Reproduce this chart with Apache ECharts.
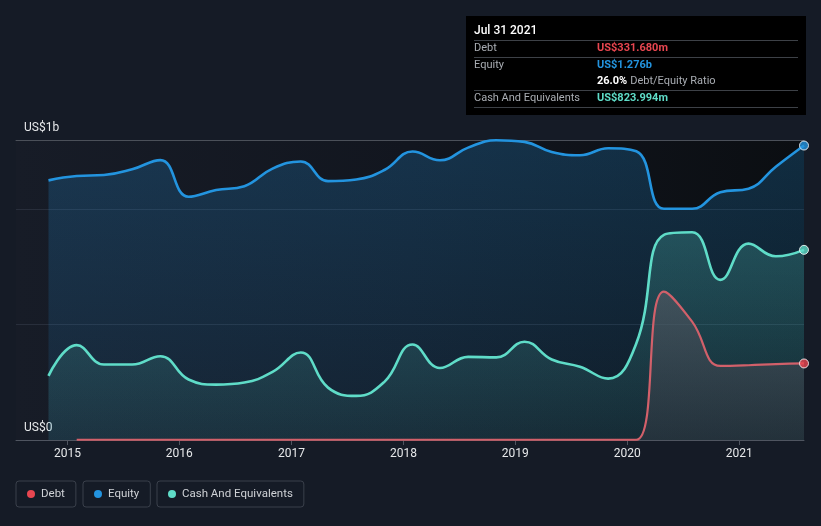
<!DOCTYPE html>
<html>
<head>
<meta charset="utf-8">
<script src="https://cdn.jsdelivr.net/npm/echarts@6/dist/echarts.min.js"></script>
<style>
html,body{margin:0;padding:0;background:#151b26;}
#c{width:821px;height:526px;}
</style>
</head>
<body>
<div id="c"></div>
<script>
// ---- data (values in US$ billions) ----
var dates = ['2014-10-31','2015-01-31','2015-04-30','2015-07-31','2015-10-31','2016-01-31','2016-04-30','2016-07-31','2016-10-31','2017-01-31','2017-04-30','2017-07-31','2017-10-31','2018-01-31','2018-04-30','2018-07-31','2018-10-31','2019-01-31','2019-04-30','2019-07-31','2019-10-31','2020-01-31','2020-04-30','2020-07-31','2020-10-31','2021-01-31','2021-04-30','2021-07-31'];
var equity = [1.125,1.144,1.148,1.173,1.213,1.054,1.083,1.100,1.176,1.207,1.122,1.129,1.170,1.250,1.212,1.267,1.299,1.292,1.248,1.234,1.264,1.251,1.002,1.002,1.074,1.089,1.184,1.276];
var cash = [0.278,0.411,0.327,0.327,0.363,0.262,0.240,0.249,0.295,0.379,0.227,0.191,0.252,0.414,0.312,0.360,0.358,0.426,0.349,0.317,0.266,0.419,0.889,0.900,0.694,0.851,0.796,0.823994];
var debt = [null,0.001,0.001,0.001,0.001,0.001,0.001,0.001,0.001,0.001,0.001,0.001,0.001,0.001,0.001,0.001,0.001,0.001,0.001,0.001,0.001,0.001,0.643,0.513,0.321,0.324,0.329,0.33168];
var yearTicks = ['2015','2016','2017','2018','2019','2020','2021'];
var axisStart = '2014-07-17';
var axisEnd = '2021-07-31';
var tooltipDate = 'Jul 31 2021';

var C_DEBT = '#e84650', C_DEBT_LINE = '#d2606a', C_EQ = '#2394df', C_CASH = '#5fdcc8';

function ts(d){ return Date.parse(d + 'T00:00:00Z'); }
function pairs(arr){ return dates.map(function(d,i){ return [ts(d), arr[i]]; }); }
function lastPair(arr){ var i = arr.length-1; return [[ts(dates[i]), arr[i]]]; }
function fmt(v){ return v >= 1 ? 'US$' + v.toFixed(3) + 'b' : 'US$' + (v*1000).toFixed(3) + 'm'; }
var lastDebt = debt[debt.length-1], lastEq = equity[equity.length-1], lastCash = cash[cash.length-1];
var ratio = (lastDebt/lastEq*100).toFixed(1) + '%';
var tickTimes = yearTicks.map(function(y){ return ts(y + '-01-01'); });

function grad(c1, c2){ return new echarts.graphic.LinearGradient(0,0,0,1,[{offset:0,color:c1},{offset:1,color:c2}]); }

var chart = echarts.init(document.getElementById('c'), null, {renderer:'canvas'});
var FONT = 'Roboto, "Noto Sans", sans-serif';

function legend(name, left){
  return {
    data:[name], left:left, top:481, orient:'horizontal',
    icon:'circle', itemWidth:8, itemHeight:8, itemGap:0,
    borderColor:'#3a404b', borderWidth:1, borderRadius:3,
    padding:[6,11,6,11],
    textStyle:{color:'#cfd2d6', fontSize:11.5, fontFamily:FONT, lineHeight:14, padding:[0,0,0,1]}
  };
}

var rowLabel = {fill:'#a9adb3', fontSize:11, fontFamily:FONT};
function txt(x,y,t,style){ return {type:'text', x:x, y:y, style:Object.assign({text:t, verticalAlign:'middle'}, style)}; }
function hl(y){ return {type:'line', shape:{x1:474,y1:y,x2:798,y2:y}, style:{stroke:'#3d4147', lineWidth:1}}; }

var SM = 0.45;
chart.setOption({
  backgroundColor:'#151b26',
  animation:false,
  grid:{left:16, right:17, top:140, bottom:86, show:true, borderWidth:0,
    backgroundColor:new echarts.graphic.LinearGradient(0,0,1,0,[{offset:0,color:'#171c27'},{offset:0.5,color:'#12161f'},{offset:1,color:'#0b0e12'}])},
  legend:[legend('Debt',16), legend('Equity',83), legend('Cash And Equivalents',157)],
  xAxis:[{
    type:'value', min:ts(axisStart), max:ts(axisEnd),
    axisLine:{show:true, lineStyle:{color:'#4f5560', width:1}},
    axisTick:{show:true, customValues:tickTimes, length:5, lineStyle:{color:'#4f5560'}},
    axisLabel:{show:true, customValues:tickTimes, formatter:function(v){ return String(new Date(v).getUTCFullYear()); },
      color:'#e6e8ea', fontSize:12, fontFamily:FONT, margin:8},
    splitLine:{show:false}
  },{
    type:'value', min:ts(axisStart), max:ts(axisEnd), position:'top',
    axisLine:{show:true, lineStyle:{color:'#4b5059', width:1}},
    axisTick:{show:false}, axisLabel:{show:false}, splitLine:{show:false}
  }],
  yAxis:{
    type:'value', min:0, max:1.3, interval:0.5,
    axisLine:{show:false}, axisTick:{show:false}, axisLabel:{show:false},
    splitLine:{show:true, lineStyle:{color:'rgba(120,135,155,0.18)', width:1}}
  },
  series:[
    {name:'Equity', type:'line', data:pairs(equity), smooth:SM, showSymbol:false,
      lineStyle:{color:C_EQ, width:2.6}, itemStyle:{color:C_EQ},
      areaStyle:{color:grad('rgba(35,148,223,0.33)','rgba(35,148,223,0.13)')}, z:2},
    {name:'Cash And Equivalents', type:'line', data:pairs(cash), smooth:SM, showSymbol:false,
      lineStyle:{color:C_CASH, width:2.6}, itemStyle:{color:C_CASH},
      areaStyle:{color:grad('rgba(95,220,200,0.32)','rgba(95,220,200,0.10)')}, z:3},
    {name:'Debt', type:'line', data:pairs(debt), smooth:SM, showSymbol:false, connectNulls:false,
      lineStyle:{color:C_DEBT_LINE, width:2.2}, itemStyle:{color:C_DEBT},
      areaStyle:{color:grad('rgba(88,90,100,0.85)','rgba(52,58,68,0.7)')}, z:4},
    {name:'eqEnd', type:'scatter', data:lastPair(equity), symbolSize:9, itemStyle:{color:C_EQ, borderColor:'#fff', borderWidth:1}, z:6},
    {name:'cashEnd', type:'scatter', data:lastPair(cash), symbolSize:9, itemStyle:{color:C_CASH, borderColor:'#fff', borderWidth:1}, z:6},
    {name:'debtEnd', type:'scatter', data:lastPair(debt), symbolSize:9, itemStyle:{color:C_DEBT, borderColor:'#fff', borderWidth:1}, z:6}
  ],
  graphic:[
    txt(24,128,'US$1b',{fill:'#e6e8ea', fontSize:12, fontFamily:FONT}),
    txt(24,428,'US$0',{fill:'#e6e8ea', fontSize:12, fontFamily:FONT}),
    {type:'group', children:[
      {type:'rect', shape:{x:466,y:16,width:340,height:99}, style:{fill:'#000000'}},
      txt(474,31,tooltipDate,{fill:'#ffffff', fontSize:12, fontFamily:FONT, fontWeight:500}),
      hl(40.5), hl(57.5), hl(90.5), hl(107.5),
      txt(474,48.5,'Debt',rowLabel),
      txt(597,48.5,fmt(lastDebt),{fill:C_DEBT, fontSize:11, fontWeight:'bold', fontFamily:FONT}),
      txt(474,65.5,'Equity',rowLabel),
      txt(597,65.5,fmt(lastEq),{fill:C_EQ, fontSize:11, fontWeight:'bold', fontFamily:FONT}),
      {type:'text', x:597, y:81.5, style:{text:'{b|'+ratio+'} {g|Debt/Equity Ratio}', verticalAlign:'middle', fontFamily:FONT,
        rich:{b:{fill:'#ffffff', fontSize:11, fontWeight:'bold', fontFamily:FONT}, g:{fill:'#a9adb3', fontSize:11, fontFamily:FONT}}}},
      txt(474,98,'Cash And Equivalents',rowLabel),
      txt(597,98,fmt(lastCash),{fill:C_CASH, fontSize:11, fontWeight:'bold', fontFamily:FONT})
    ]}
  ]
});
</script>
</body>
</html>
